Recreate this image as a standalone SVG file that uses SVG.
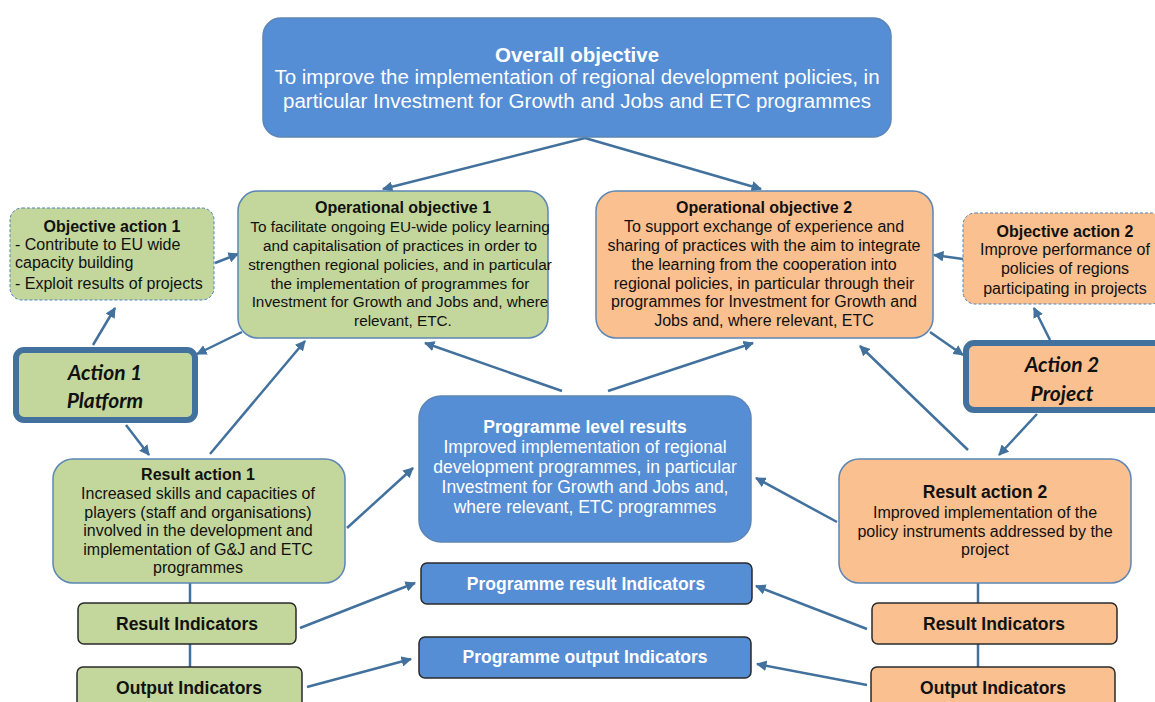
<svg xmlns="http://www.w3.org/2000/svg" width="1155" height="702" viewBox="0 0 1155 702">
<style>
text{font-family:"Liberation Sans",Arial,sans-serif;fill:#111;text-anchor:middle}
.b{font-weight:bold}
.w{fill:#fff}
.green{fill:#c3d69b}
.orange{fill:#fac090}
.blue{fill:#558ed5}
.soft{stroke:#5b86b5;stroke-width:1.5}
.dash{stroke:#4f81bd;stroke-width:1;stroke-dasharray:3 2}
.dark{stroke:#2a2a2a;stroke-width:1.5}
.act{stroke:#41719c;stroke-width:6}
.at{font-family:Lato,"Liberation Sans",sans-serif;font-weight:bold;font-style:italic;font-size:21px}
.c line{stroke:#41719c;stroke-width:2.5}
.ca line{marker-end:url(#ah)}
.t16{font-size:16px}
.t15{font-size:15.3px}
.t17{font-size:17.5px}
.st{text-anchor:start}
</style>
<defs>
<marker id="ah" viewBox="0 0 10 10" refX="9" refY="5" markerWidth="4.2" markerHeight="4.2" orient="auto" markerUnits="strokeWidth">
<path d="M0,0 L10,5 L0,10 z" fill="#41719c"/>
</marker>
</defs>
<rect width="1155" height="702" fill="#fff"/>

<g id="connectors" class="c">
<g class="ca">
<line x1="585" y1="138" x2="383" y2="189"/>
<line x1="585" y1="138" x2="761" y2="189"/>
<line x1="215" y1="263" x2="238" y2="254"/>
<line x1="242" y1="332" x2="197" y2="354"/>
<line x1="93" y1="345" x2="115" y2="308"/>
<line x1="210" y1="454" x2="305" y2="341"/>
<line x1="126" y1="425" x2="149" y2="455"/>
<line x1="347" y1="528" x2="413" y2="468"/>
<line x1="300" y1="628" x2="415" y2="583"/>
<line x1="307" y1="687" x2="411" y2="659"/>
<line x1="562" y1="391" x2="425" y2="343"/>
<line x1="608" y1="391" x2="753" y2="343"/>
<line x1="837" y1="522" x2="756" y2="478"/>
<line x1="867" y1="629" x2="756" y2="586"/>
<line x1="867" y1="685" x2="757" y2="664"/>
<line x1="968" y1="450" x2="860" y2="346"/>
<line x1="1037" y1="414" x2="999" y2="455"/>
<line x1="930" y1="332" x2="963" y2="355"/>
<line x1="1050" y1="340" x2="1034" y2="308"/>
<line x1="963" y1="259" x2="934" y2="255"/>
</g>
<line x1="190" y1="583" x2="190" y2="603"/>
<line x1="190" y1="644" x2="190" y2="667"/>
<line x1="978" y1="583" x2="978" y2="603"/>
<line x1="978" y1="644" x2="978" y2="667"/>
</g>

<g id="overall">
<rect class="blue soft" x="263" y="18" width="628" height="119" rx="18"/>
<text class="w b" x="577" y="62" font-size="20.5">Overall objective</text>
<text class="w" x="577" y="84" font-size="20.5">To improve the implementation of regional development policies, in</text>
<text class="w" x="577" y="108" font-size="20.5">particular Investment for Growth and Jobs and ETC programmes</text>
</g>

<g id="opobj1">
<rect class="green soft" x="238" y="191" width="310" height="147" rx="20"/>
<text class="b t16" x="403" y="213">Operational objective 1</text>
<text class="t15" x="400" y="232">To facilitate ongoing EU-wide policy learning</text>
<text class="t15" x="400" y="251">and capitalisation of practices in order to</text>
<text class="t15" x="400" y="270">strengthen regional policies, and in particular</text>
<text class="t15" x="400" y="289">the implementation of programmes for</text>
<text class="t15" x="400" y="307">Investment for Growth and Jobs and, where</text>
<text class="t15" x="403" y="326">relevant, ETC.</text>
</g>

<g id="opobj2">
<rect class="orange soft" x="596" y="191" width="337" height="147" rx="20"/>
<text class="b t16" x="764" y="213">Operational objective 2</text>
<text class="t16" x="764" y="232">To support exchange of experience and</text>
<text class="t16" x="764" y="251">sharing of practices with the aim to integrate</text>
<text class="t16" x="764" y="270">the learning from the cooperation into</text>
<text class="t16" x="764" y="289">regional policies, in particular through their</text>
<text class="t16" x="764" y="307">programmes for Investment for Growth and</text>
<text class="t16" x="764" y="326">Jobs and, where relevant, ETC</text>
</g>

<g id="objaction1">
<rect class="green dash" x="10" y="208" width="204" height="92" rx="12"/>
<text class="b t16" x="112" y="232">Objective action 1</text>
<text class="t16 st" x="15" y="250">- Contribute to EU wide</text>
<text class="t16 st" x="15" y="268">capacity building</text>
<text class="t16 st" x="15" y="289">- Exploit results of projects</text>
</g>

<g id="objaction2">
<rect class="orange dash" x="963" y="213" width="200" height="91" rx="12"/>
<text class="b t16" x="1065" y="237">Objective action 2</text>
<text class="t16" x="1065" y="255">Improve performance of</text>
<text class="t16" x="1065" y="274">policies of regions</text>
<text class="t16" x="1065" y="294">participating in projects</text>
</g>

<g id="action1">
<rect class="green act" x="16" y="350" width="179" height="70" rx="8"/>
<text class="at" x="105" y="380">Action 1</text>
<text class="at" x="105" y="408">Platform</text>
</g>

<g id="action2">
<rect class="orange act" x="966" y="343" width="200" height="67" rx="8"/>
<text class="at" x="1062" y="372">Action 2</text>
<text class="at" x="1062" y="401">Project</text>
</g>

<g id="progresults">
<rect class="blue soft" x="419" y="396" width="332" height="146" rx="22"/>
<text class="w b t17" x="585" y="433">Programme level results</text>
<text class="w t17" x="585" y="453">Improved implementation of regional</text>
<text class="w t17" x="585" y="473">development programmes, in particular</text>
<text class="w t17" x="585" y="493">Investment for Growth and Jobs and,</text>
<text class="w t17" x="585" y="513">where relevant, ETC programmes</text>
</g>

<g id="resaction1">
<rect class="green soft" x="53" y="459" width="292" height="124" rx="20"/>
<text class="b t16" x="198" y="480">Result action 1</text>
<text class="t16" x="198" y="499">Increased skills and capacities of</text>
<text class="t16" x="198" y="518">players (staff and organisations)</text>
<text class="t16" x="198" y="536">involved in the development and</text>
<text class="t16" x="198" y="555">implementation of G&amp;J and ETC</text>
<text class="t16" x="198" y="573">programmes</text>
</g>

<g id="resaction2">
<rect class="orange soft" x="839" y="459" width="292" height="124" rx="20"/>
<text class="b t17" x="985" y="498">Result action 2</text>
<text class="t16" x="985" y="518">Improved implementation of the</text>
<text class="t16" x="985" y="537">policy instruments addressed by the</text>
<text class="t16" x="985" y="555">project</text>
</g>

<g id="resind1">
<rect class="green dark" x="78" y="603" width="218" height="41" rx="6"/>
<text class="b t17" x="187" y="630">Result Indicators</text>
</g>
<g id="outind1">
<rect class="green dark" x="77" y="667" width="225" height="45" rx="6"/>
<text class="b t17" x="189" y="694">Output Indicators</text>
</g>
<g id="resind2">
<rect class="orange dark" x="872" y="603" width="245" height="41" rx="6"/>
<text class="b t17" x="994" y="630">Result Indicators</text>
</g>
<g id="outind2">
<rect class="orange dark" x="871" y="667" width="244" height="45" rx="6"/>
<text class="b t17" x="993" y="694">Output Indicators</text>
</g>
<g id="progresind">
<rect class="blue dark" x="421" y="563" width="331" height="41" rx="6"/>
<text class="w b t17" x="586" y="590">Programme result Indicators</text>
</g>
<g id="progoutind">
<rect class="blue dark" x="419" y="637" width="332" height="41" rx="6"/>
<text class="w b t17" x="585" y="663">Programme output Indicators</text>
</g>
</svg>
